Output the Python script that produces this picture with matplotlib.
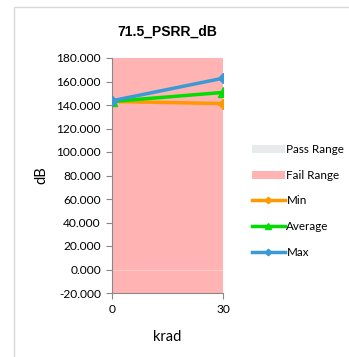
import matplotlib.pyplot as plt
from matplotlib.patches import Rectangle

# Datos
krad = [0, 30]
minimo = [143.0, 141.2]
promedio = [143.0, 150.7]
maximo = [143.6, 162.8]
falla_inf = [-20, -20]
falla_sup = [180, 180]
pasa_inf = [0, 0]
pasa_sup = [0, 0]

plt.rcParams['font.family'] = ['Lato', 'DejaVu Sans']

fig = plt.figure(figsize=(3.49, 3.57), dpi=100)
W, H = 349, 357
ax = fig.add_axes([112 / W, 1 - 293 / H, (223 - 112) / W, (293 - 58) / H])

# Borde del área del gráfico
fig.patches.append(Rectangle((14 / W, -0.01), 1.0, 1 - 7 / H + 0.01,
                             transform=fig.transFigure, fill=False,
                             edgecolor='#D9D9D9', linewidth=1.0))

ax.fill_between(krad, falla_inf, falla_sup, color='#FFB3B3', linewidth=0,
                label='Fail Range', zorder=1)
ax.fill_between(krad, pasa_inf, pasa_sup, color='#E6ECEC', linewidth=0,
                label='Pass Range', zorder=2)
ax.plot(krad, pasa_sup, color='#FFD0D0', linewidth=0.6, zorder=2)

ax.plot(krad, minimo, color='#FF9900', linewidth=2.5, marker='D', markersize=5.5,
        label='Min', zorder=3)
ax.plot(krad, promedio, color='#00DD00', linewidth=2.5, marker='^', markersize=6.5,
        label='Average', zorder=4)
ax.plot(krad, maximo, color='#3A9AD6', linewidth=2.5, marker='D', markersize=5.5,
        label='Max', zorder=5)

ax.set_xlim(0, 30)
ax.set_ylim(-20, 180)
ax.set_xticks(krad)
ax.set_yticks(range(-20, 181, 20))
ax.set_yticklabels([f'{v:.3f}' for v in range(-20, 181, 20)])
ax.tick_params(labelsize=8.6, length=4, color='#888888', pad=4)
for lado in ['top', 'right']:
    ax.spines[lado].set_visible(False)
for lado in ['left', 'bottom']:
    ax.spines[lado].set_color('#888888')

ax.set_title('71.5_PSRR_dB', fontsize=10, fontweight='bold', pad=16,
             family='Liberation Sans')
ax.set_xlabel('krad', fontsize=10.5, labelpad=11)
ax.set_ylabel('dB', fontsize=10.5, labelpad=6)

handles, labels = ax.get_legend_handles_labels()
orden = ['Pass Range', 'Fail Range', 'Min', 'Average', 'Max']
hs = [handles[labels.index(o)] for o in orden]
fig.legend(hs, orden, loc='center left', bbox_to_anchor=(252 / W, 1 - 201 / H),
           frameon=False, fontsize=8.4, handlelength=2.8, handletextpad=0.15,
           labelspacing=1.25, borderpad=0, borderaxespad=0, markerscale=0.6)

fig.savefig('out.png', dpi=100)
